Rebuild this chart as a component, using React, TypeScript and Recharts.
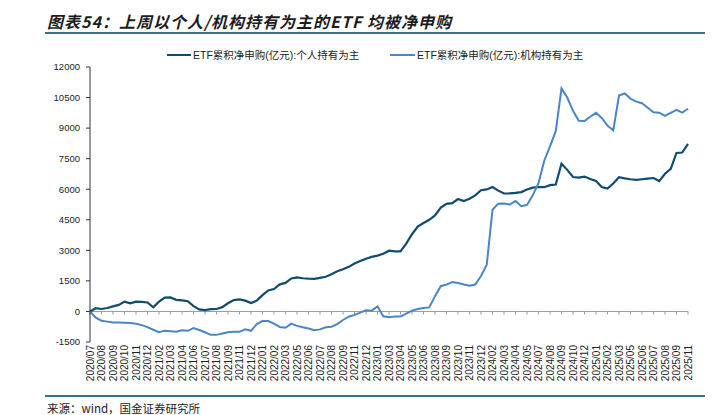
import React from 'react';
import { LineChart, Line, XAxis, YAxis, ReferenceLine } from 'recharts';

const tickLabels = [
  '2020/07','2020/08','2020/09','2020/10','2020/11','2020/12',
  '2021/02','2021/03','2021/04','2021/06','2021/07','2021/08','2021/09','2021/11','2021/12',
  '2022/01','2022/02','2022/03','2022/05','2022/06','2022/07','2022/08','2022/09','2022/11','2022/12',
  '2023/01','2023/03','2023/04','2023/05','2023/06','2023/08','2023/09','2023/10','2023/11','2023/12',
  '2024/02','2024/03','2024/04','2024/05','2024/07','2024/08','2024/09','2024/10','2024/12',
  '2025/01','2025/02','2025/03','2025/05','2025/06','2025/07','2025/08','2025/09','2025/11',
];

const individualValues = [
  0,160,120,170,250,320,480,400,480,470,
  440,200,480,680,690,570,540,500,260,100,
  70,110,120,210,400,560,590,530,410,530,
  800,1030,1100,1330,1400,1620,1670,1630,1610,1600,
  1650,1700,1830,1975,2070,2190,2350,2480,2590,2680,
  2740,2830,2980,2950,2950,3330,3790,4170,4340,4500,
  4710,5100,5280,5320,5520,5420,5530,5700,5950,5990,
  6110,5930,5790,5800,5820,5860,5990,6080,6110,6100,
  6200,6230,7250,6950,6600,6570,6620,6500,6400,6110,
  6030,6280,6590,6530,6490,6460,6490,6520,6550,6400,
  6760,7000,7780,7800,8230,
];

const institutionalValues = [
  0,-310,-455,-500,-540,-540,-550,-570,-600,-670,
  -770,-900,-1020,-950,-970,-1000,-920,-950,-820,-910,
  -1020,-1150,-1150,-1080,-1020,-1000,-1000,-880,-950,-620,
  -470,-470,-600,-760,-800,-600,-710,-780,-840,-920,
  -880,-780,-750,-620,-420,-260,-170,-60,60,40,
  250,-240,-290,-250,-250,-110,40,120,170,200,
  750,1240,1320,1440,1400,1320,1260,1320,1740,2300,
  4990,5290,5300,5250,5420,5170,5230,5700,6300,7400,
  8100,8850,10950,10500,9850,9360,9350,9560,9750,9500,
  9120,8890,10600,10700,10450,10300,10220,10000,9780,9760,
  9600,9750,9900,9760,9950,
];

const yTicks = [-1500, 0, 1500, 3000, 4500, 6000, 7500, 9000, 10500, 12000];

const seriesNames = ['ETF累积净申购(亿元):个人持有为主', 'ETF累积净申购(亿元):机构持有为主'];
const DARK = '#0f4c6f';
const LIGHT = '#4a86c6';

const data = individualValues.map((v, k) => ({
  cat: k % 2 === 0 ? tickLabels[k / 2] : tickLabels[(k - 1) / 2] + '+',
  individual: v,
  institutional: institutionalValues[k],
}));

const FONT = '"Liberation Sans", Arial, "Noto Sans CJK SC", sans-serif';

const XTick = (props: any) => {
  const { x, y, payload } = props;
  return (
    <text
      x={x}
      y={y}
      transform={`rotate(-90, ${x}, ${y})`}
      textAnchor="end"
      dy="0.35em"
      fontSize={10}
      fontFamily={FONT}
      fill="#222"
    >
      {payload.value}
    </text>
  );
};

export default function App() {
  return (
    <div style={{ position: 'absolute', left: 0, top: 0, width: 725, height: 415, background: '#fff', overflow: 'hidden' }}>
      <div
        style={{
          position: 'absolute', left: 47, top: 10, fontSize: 16, fontWeight: 'bold', fontStyle: 'italic',
          fontFamily: '"Noto Sans CJK SC", sans-serif', color: '#1c1c1c', letterSpacing: 1, lineHeight: '22px', whiteSpace: 'nowrap',
        }}
      >
        图表54：上周以个人/机构持有为主的ETF 均被净申购
      </div>
      <div style={{ position: 'absolute', left: 45, top: 32, width: 660, height: 2, background: '#3b6f97' }} />

      <div style={{ position: 'absolute', left: 0, top: 47, width: 725, height: 16, fontFamily: FONT, fontSize: 10.5, color: '#222' }}>
        <div style={{ position: 'absolute', left: 167, top: 7, width: 24, height: 2, background: DARK }} />
        <div style={{ position: 'absolute', left: 193, top: 0, lineHeight: '16px', whiteSpace: 'nowrap' }}>{seriesNames[0]}</div>
        <div style={{ position: 'absolute', left: 390, top: 7, width: 25, height: 2, background: LIGHT }} />
        <div style={{ position: 'absolute', left: 417, top: 0, lineHeight: '16px', whiteSpace: 'nowrap' }}>{seriesNames[1]}</div>
      </div>

      <div style={{ position: 'absolute', left: 0, top: 0 }}>
        <LineChart width={725} height={415} data={data} margin={{ top: 67, right: 37, bottom: 23, left: 40 }}>
          <XAxis
            dataKey="cat"
            type="category"
            interval={1}
            axisLine={false}
            tickLine={false}
            tickSize={0}
            tickMargin={3}
            height={50}
            tick={<XTick />}
          />
          <YAxis
            domain={[-1500, 12000]}
            ticks={yTicks}
            width={50}
            allowDataOverflow
            axisLine={{ stroke: '#333', strokeWidth: 1 }}
            tickLine={{ stroke: '#333', strokeWidth: 1 }}
            tickSize={4}
            tickMargin={6}
            tick={{ fontSize: 9.5, fill: '#222', fontFamily: FONT }}
          />
          <ReferenceLine y={0} stroke="#9a9a9a" strokeWidth={1} />
          {tickLabels.map((t) => (
            <ReferenceLine key={t} segment={[{ x: t, y: 0 }, { x: t, y: -150 }]} stroke="#9a9a9a" strokeWidth={1} />
          ))}
          <Line type="linear" dataKey="individual" name={seriesNames[0]} stroke={DARK} strokeWidth={2.2} dot={false} isAnimationActive={false} />
          <Line type="linear" dataKey="institutional" name={seriesNames[1]} stroke={LIGHT} strokeWidth={2} dot={false} isAnimationActive={false} />
        </LineChart>
      </div>

      <div style={{ position: 'absolute', left: 45, top: 395, width: 660, height: 2, background: '#3b6f97' }} />
      <div style={{ position: 'absolute', left: 47, top: 401, fontSize: 11.5, fontFamily: '"Noto Sans CJK SC", sans-serif', color: '#222', lineHeight: '14px', whiteSpace: 'nowrap' }}>
        来源：wind，国金证券研究所
      </div>
    </div>
  );
}
